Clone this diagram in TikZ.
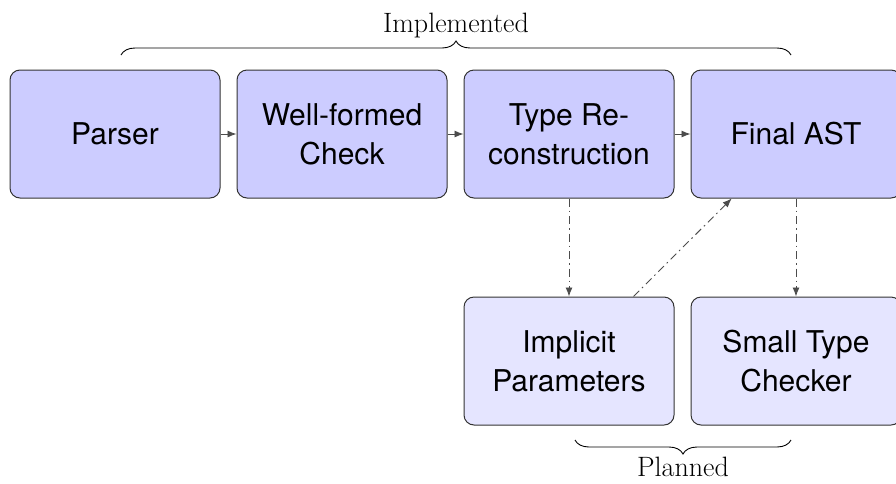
\documentclass[tikz,border=0pt]{standalone}
\usepackage{fontspec}
\setsansfont{TeX Gyre Heros}
\usetikzlibrary{arrows.meta,decorations.pathreplacing}
\begin{document}
\begin{tikzpicture}[x=1pt,y=-1pt,
  stagebox/.style={draw=black!80, line width=1pt, rounded corners=10pt,
    minimum width=210pt, minimum height=128pt, inner sep=0pt, align=center,
    font=\sffamily\fontsize{30}{39}\selectfont},
  done/.style={stagebox, fill=blue!20},
  plan/.style={stagebox, fill=blue!10},
  flow/.style={draw=black!70, line width=0.9pt, -{Latex[length=9pt,width=7pt]}},
  maybe/.style={flow, dash pattern=on 8pt off 4pt on 1.5pt off 4pt},
  bracelabel/.style={font=\fontsize{28}{32}\selectfont},
  bracestyle/.style={draw=black, line width=0.9pt, decorate,
    decoration={brace, amplitude=14pt}}
]
\useasboundingbox (0,0) rectangle (896,483);
\node[done] (parser) at (115,134) {Parser};
\node[done] (wf) at (342,134) {Well-formed\\Check};
\node[done] (tr) at (569,134) {Type Re-\\construction};
\node[done] (ast) at (796,134) {Final AST};
\node[plan] (imp) at (569,361) {Implicit\\Parameters};
\node[plan] (stc) at (796,361) {Small Type\\Checker};

\draw[flow] (parser) -- (wf);
\draw[flow] (wf) -- (tr);
\draw[flow] (tr) -- (ast);
\draw[maybe] (tr) -- (imp);
\draw[maybe] (ast) -- (stc);
\draw[maybe] (imp) -- (ast);

\coordinate (ia) at (121,55);
\coordinate (ib) at (791,55);
\draw[bracestyle] (ia) -- (ib) node[midway, above=13pt, bracelabel] (implbl) {Implemented};
\coordinate (pa) at (791,440);
\coordinate (pb) at (575,440);
\draw[bracestyle] (pa) -- (pb) node[midway, below=13pt, bracelabel] (planlbl) {Planned};
\end{tikzpicture}
\end{document}
